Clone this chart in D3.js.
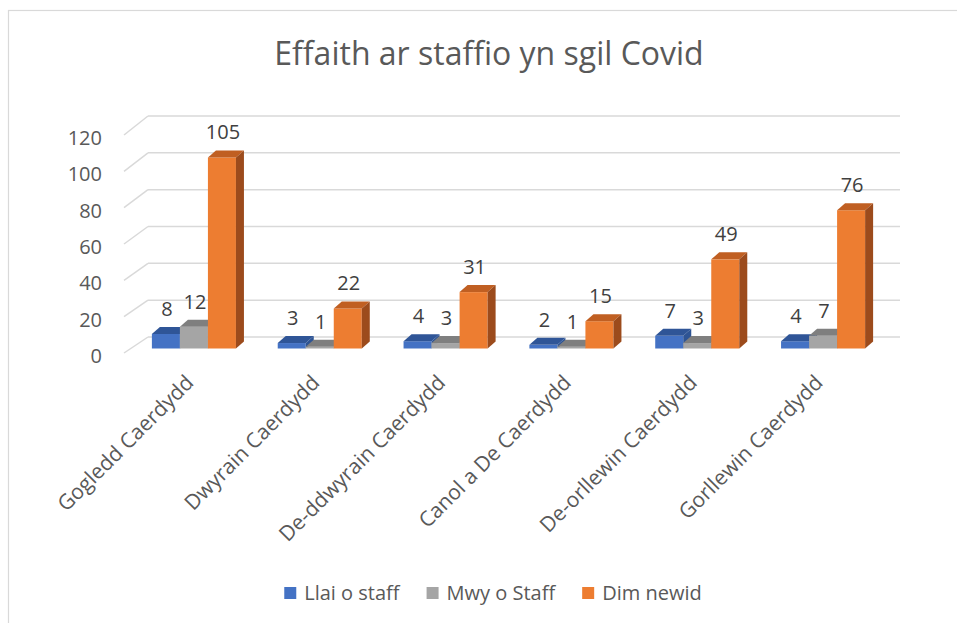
<!DOCTYPE html>
<html>
<head>
<meta charset="utf-8">
<script src="https://cdn.jsdelivr.net/npm/d3@7"></script>
<style>
  body { margin: 0; background: #fff; }
  text { font-family: 'Open Sans', sans-serif; }
</style>
</head>
<body>
<div id="chart"></div>
<script>
//Datos del gráfico
const categories = ['Gogledd Caerdydd', 'Dwyrain Caerdydd', 'De-ddwyrain Caerdydd', 'Canol a De Caerdydd', 'De-orllewin Caerdydd', 'Gorllewin Caerdydd']
const seriesNames = ['Llai o staff', 'Mwy o Staff', 'Dim newid']
const llai = [8, 3, 4, 2, 7, 4]
const mwy = [12, 1, 3, 1, 3, 7]
const dim = [105, 22, 31, 15, 49, 76]
const yTicks = [0, 20, 40, 60, 80, 100, 120]
const title = 'Effaith ar staffio yn sgil Covid'

//Constantes
const width = 957
const height = 623
const depthX = 8
const depthY = 7
const colors = {
    'Llai o staff': { front: '#4472C4', top: '#2F5597', side: '#2E5494' },
    'Mwy o Staff': { front: '#A5A5A5', top: '#7F7F7F', side: '#7A7A7A' },
    'Dim newid': { front: '#ED7D31', top: '#C05F22', side: '#9C4B1C' }
}
const values = [llai, mwy, dim]

const svg = d3.select('#chart')
    .append('svg')
    .attr('width', width)
    .attr('height', height)

//Borde del gráfico
svg.append('rect')
    .attr('x', 8.5)
    .attr('y', 10.5)
    .attr('width', 960)
    .attr('height', 640)
    .attr('fill', '#fff')
    .attr('stroke', '#D9D9D9')
    .attr('stroke-width', 1.2)

//Título
svg.append('text')
    .attr('x', 489)
    .attr('y', 65)
    .attr('text-anchor', 'middle')
    .attr('font-size', 32)
    .attr('fill', '#595959')
    .text(title)

//Escalas
const x0 = d3.scaleBand()
    .domain(categories)
    .range([131, 886])
    .paddingInner(0.332)
    .paddingOuter(0.166)

const x1 = d3.scaleBand()
    .domain(seriesNames)
    .range([0, x0.bandwidth()])

const yBar = d3.scaleLinear().domain([0, 120]).range([348.5, 130.2])
const yBack = d3.scaleLinear().domain([0, 120]).range([337, 116])
const yFront = d3.scaleLinear().domain([0, 120]).range([353, 135])

const floorLeft = 124
const wallLeft = 148
const wallRight = 900

//Líneas de la cuadrícula (pared y suelo)
const grid = svg.append('g').attr('class', 'grid')
grid.selectAll('.diag')
    .data(yTicks)
    .enter()
    .append('line')
    .attr('x1', floorLeft)
    .attr('y1', d => yFront(d))
    .attr('x2', wallLeft)
    .attr('y2', d => yBack(d))
    .attr('stroke', '#D9D9D9')
    .attr('stroke-width', 1.5)
grid.selectAll('.wall')
    .data(yTicks)
    .enter()
    .append('line')
    .attr('x1', wallLeft)
    .attr('y1', d => yBack(d))
    .attr('x2', wallRight)
    .attr('y2', d => yBack(d))
    .attr('stroke', '#D9D9D9')
    .attr('stroke-width', 1.5)

//Eje Y
const axisY = d3.axisLeft(yFront)
    .tickValues(yTicks)
    .tickSize(0)
    .tickPadding(22)
svg.append('g')
    .attr('transform', `translate(${floorLeft}, 3)`)
    .call(axisY)
    .call(g => g.select('.domain').remove())
    .call(g => g.selectAll('text')
        .attr('font-family', "'Open Sans', sans-serif")
        .attr('font-size', 20)
        .attr('fill', '#595959'))

//Barras 3D
const bars = []
categories.forEach((c, i) => {
    seriesNames.forEach((s, j) => {
        bars.push({ cat: c, series: s, value: values[j][i] })
    })
})

const barW = x1.bandwidth()
const barGroups = svg.append('g')
    .selectAll('g')
    .data(bars)
    .enter()
    .append('g')
    .attr('transform', d => `translate(${x0(d.cat) + x1(d.series)}, 0)`)

const y0 = yBar(0)
barGroups.append('rect')
    .attr('x', 0)
    .attr('y', d => yBar(d.value))
    .attr('width', barW)
    .attr('height', d => y0 - yBar(d.value))
    .attr('fill', d => colors[d.series].front)

barGroups.append('path')
    .attr('d', d => {
        const t = yBar(d.value)
        return `M0,${t}L${depthX},${t - depthY}L${barW + depthX},${t - depthY}L${barW},${t}Z`
    })
    .attr('fill', d => colors[d.series].top)

barGroups.append('path')
    .attr('d', d => {
        const t = yBar(d.value)
        return `M${barW},${t}L${barW + depthX},${t - depthY}L${barW + depthX},${y0 - depthY}L${barW},${y0}Z`
    })
    .attr('fill', d => colors[d.series].side)

//Etiquetas de valores
barGroups.append('text')
    .attr('x', barW / 2 + 1)
    .attr('y', d => yBar(d.value) - 25)
    .attr('dy', '0.35em')
    .attr('text-anchor', 'middle')
    .attr('font-size', 20)
    .attr('fill', '#404040')
    .text(d => d.value)

//Etiquetas de categorías
svg.append('g')
    .selectAll('text')
    .data(categories)
    .enter()
    .append('text')
    .attr('transform', d => `translate(${x0(d) + x0.bandwidth() / 2 + 1}, 384) rotate(-45)`)
    .attr('text-anchor', 'end')
    .attr('font-size', 21)
    .attr('fill', '#595959')
    .text(d => d)

//Leyenda
const legend = svg.append('g').attr('class', 'legend')
const items = legend.selectAll('g')
    .data(seriesNames)
    .enter()
    .append('g')
items.append('rect')
    .attr('width', 12)
    .attr('height', 12)
    .attr('y', 587)
    .attr('fill', d => colors[d].front)
items.append('text')
    .attr('x', 20)
    .attr('y', 593)
    .attr('dy', '0.35em')
    .attr('font-size', 20)
    .attr('fill', '#595959')
    .text(d => d)

let pos = 0
const legendGap = 27
items.each(function () {
    const w = 20 + this.querySelector('text').getComputedTextLength()
    d3.select(this).attr('transform', `translate(${pos}, 0)`)
    pos += w + legendGap
})
const legendWidth = pos - legendGap
legend.attr('transform', `translate(${493 - legendWidth / 2}, 0)`)
</script>
</body>
</html>
